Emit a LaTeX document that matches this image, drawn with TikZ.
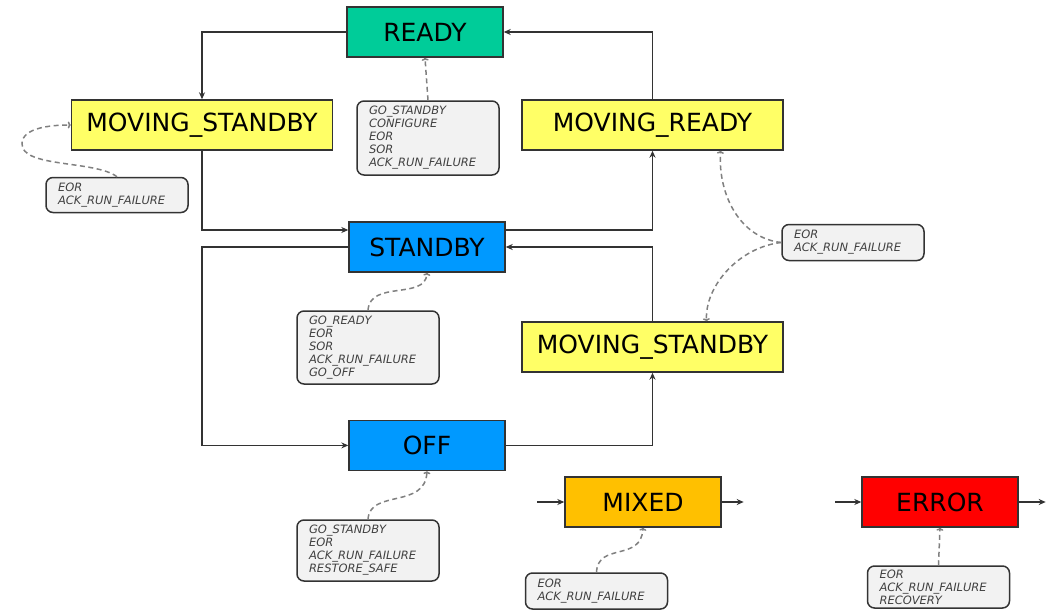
\documentclass[tikz,border=0pt]{standalone}
\usepackage{fontspec}
\setmainfont{DejaVu Sans}
\usepackage{tikz}
\usetikzlibrary{positioning, arrows.meta}

\definecolor{readygreen}{RGB}{0,204,153}
\definecolor{standbyblue}{RGB}{0,153,255}
\definecolor{movingyellow}{RGB}{255,255,102}
\definecolor{mixedorange}{RGB}{255,192,0}
\definecolor{errorred}{RGB}{255,0,0}
\definecolor{notegray}{RGB}{242,242,242}

\begin{document}
\begin{tikzpicture}[
    x=1pt, y=-1pt,
    node distance=2cm,
    state/.style={draw=black!80, line width=1.4pt, minimum width=156pt,
                  minimum height=50pt, inner sep=0pt,
                  font=\fontsize{25}{29}\selectfont},
    moving/.style={state, minimum width=261pt, fill=movingyellow},
    cmd/.style={draw=black!80, line width=1.5pt, rounded corners=7pt,
                fill=notegray, text=black!75, text width=118pt, align=left,
                inner xsep=12pt, inner ysep=2pt,
                font=\fontsize{11.5}{13}\selectfont\itshape},
    transform/.style={-{Stealth[length=7pt, width=6pt]}, line width=1.4pt,
                      draw=black!80},
    hint/.style={-{To[length=3pt, width=7pt]}, dash pattern=on 5pt off 3.5pt,
                 line width=1.5pt, draw=black!50}
]
\useasboundingbox (0,0) rectangle (1050,613);

\node[state, fill=readygreen] (ready) at (425,32) {READY};
\node[moving] (mstandby) at (202,125) {MOVING\_STANDBY};
\node[moving] (mready) at (652.5,125) {MOVING\_READY};
\node[state, fill=standbyblue] (standby) at (427,247) {STANDBY};
\node[moving] (mstandbyb) at (652.5,347) {MOVING\_STANDBY};
\node[state, fill=standbyblue, below=147pt of standby] (off) {OFF};
\node[state, fill=mixedorange] (mixed) at (643,502) {MIXED};
\node[state, fill=errorred] (error) at (940,502) {ERROR};

\node[cmd, minimum height=74pt] (nready) at (428,138)
    {GO\_STANDBY\\CONFIGURE\\EOR\\SOR\\ACK\_RUN\_FAILURE};
\node[cmd, minimum height=35pt] (nleft) at (117,195)
    {EOR\\ACK\_RUN\_FAILURE};
\node[cmd, minimum height=36pt] (nright) at (853,242.5)
    {EOR\\ACK\_RUN\_FAILURE};
\node[cmd, minimum height=73pt] (nstandby) at (368,347.5)
    {GO\_READY\\EOR\\SOR\\ACK\_RUN\_FAILURE\\GO\_OFF};
\node[cmd, minimum height=61pt] (noff) at (368,550.5)
    {GO\_STANDBY\\EOR\\ACK\_RUN\_FAILURE\\RESTORE\_SAFE};
\node[cmd, minimum height=36pt] (nmixed) at (596.5,591)
    {EOR\\ACK\_RUN\_FAILURE};
\node[cmd, minimum height=42pt] (nerror) at (938.5,587)
    {EOR\\ACK\_RUN\_FAILURE\\RECOVERY};

\coordinate[left=27pt of mixed.west] (mixedin);
\coordinate[right=22pt of mixed.east] (mixedout);
\coordinate[left=26pt of error.west] (errorin);
\coordinate[right=27pt of error.east] (errorout);

\draw[transform] (ready.west) -| (mstandby.north);
\draw[transform] (mstandby.south) |- ([yshift=17pt]standby.west);
\draw[transform] ([yshift=17pt]standby.east) -| (mready.south);
\draw[transform] (mready.north) |- (ready.east);
\draw[transform] (standby.west) -- (standby.west -| mstandby.south) |- (off.west);
\draw[transform] (off.east) -| (mstandbyb.south);
\draw[transform] (mstandbyb.north) |- (standby.east);
\draw[transform] (mixedin) -- (mixed.west);
\draw[transform] (mixed.east) -- (mixedout);
\draw[transform] (errorin) -- (error.west);
\draw[transform] (error.east) -- (errorout);

\draw[hint] (nleft.north) .. controls (95,160) and (20,168) .. (22,143)
    .. controls (23,128) and (50,125) .. (mstandby.west);
\draw[hint] (nready.north) -- (ready.south);
\draw[hint] (nright.west) .. controls (740,238) and (718,195)
    .. ([xshift=68pt]mready.south);
\draw[hint] (nright.west) .. controls (740,247) and (705,285)
    .. ([xshift=54pt]mstandbyb.north);
\draw[hint] (nstandby.north) .. controls (370,280) and (425,300) .. (standby.south);
\draw[hint] (noff.north) .. controls (370,489) and (425,509) .. (off.south);
\draw[hint] (nmixed.north) .. controls (598,542) and (641,562) .. (mixed.south);
\draw[hint] (nerror.north) -- (error.south);

\end{tikzpicture}
\end{document}
